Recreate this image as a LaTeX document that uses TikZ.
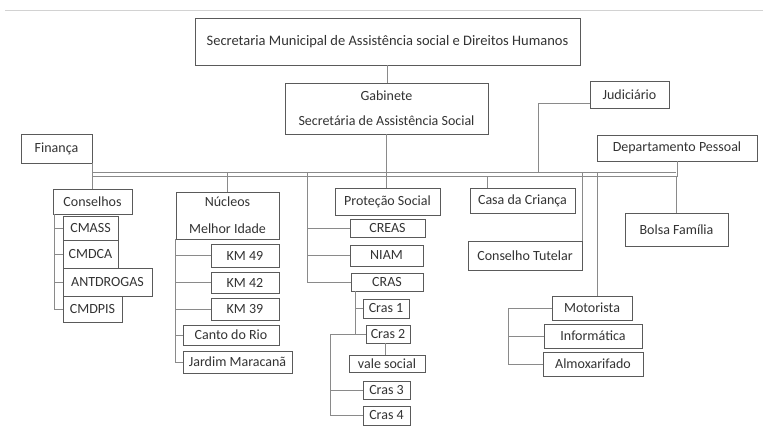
\documentclass[tikz,border=0pt]{standalone}
\usepackage{fontspec}
\setmainfont{Carlito}
\usetikzlibrary{shadows}
\definecolor{txt}{HTML}{333333}
\definecolor{edge}{HTML}{5A5A5A}
\definecolor{lnkc}{HTML}{8A8A8A}
\tikzset{
  box/.style={draw=edge, line width=0.6pt, fill=white, text=txt, inner sep=0pt,
    font=\fontsize{14}{16}\selectfont,
    drop shadow={shadow xshift=0.9pt, shadow yshift=-0.9pt, fill=black!70, opacity=1}},
  lnk/.style={draw=lnkc, line width=0.7pt},
}
\newcommand\bx[6]{\node[box, minimum width=#4pt, minimum height=#5pt] (#1) at (#2,#3) {#6};}
\begin{document}
\begin{tikzpicture}[x=1pt,y=-1pt]
\fill[white] (0,0) rectangle (763,426);
\useasboundingbox (0,0) rectangle (763,426);
\draw[gray!35, line width=0.8pt] (5,10) -- (763,10);
% boxes
\node[box, minimum width=385pt, minimum height=47pt, font=\fontsize{14.5}{16}\selectfont] (top) at (387.5,41.5) {Secretaria Municipal de Assistência social e Direitos Humanos};
\node[box, minimum width=203pt, minimum height=51pt, align=center, font=\fontsize{14}{25}\selectfont] (gab) at (386.5,108.5) {Gabinete\\Secretária de Assistência Social};
\bx{jud}{629.5}{94.5}{79}{27}{Judiciário}
\bx{fin}{56.5}{148.5}{71}{29}{Finança}
\bx{dep}{677}{148}{160}{26}{Departamento Pessoal}
\bx{cons}{92.5}{201.5}{79}{25}{Conselhos}
\bx{cmass}{90.5}{228}{55}{24}{CMASS}
\bx{cmdca}{90.5}{254}{55}{28}{CMDCA}
\bx{antdrogas}{107.5}{282}{89}{28}{ANTDROGAS}
\bx{cmdpis}{92.5}{309}{59}{26}{CMDPIS}
\node[box, minimum width=103pt, minimum height=47pt, align=center, font=\fontsize{14}{27}\selectfont] (nuc) at (227.5,215.5) {Núcleos\\Melhor Idade};
\bx{km49}{245}{255.5}{68}{23}{KM 49}
\bx{km42}{245}{282.5}{68}{21}{KM 42}
\bx{km39}{245}{309}{68}{22}{KM 39}
\bx{canto}{231}{335}{96}{20}{Canto do Rio}
\bx{jardim}{237.5}{362}{109}{22}{Jardim Maracanã}
\bx{prot}{387.5}{201.5}{105}{27}{Proteção Social}
\bx{creas}{387.5}{228}{75}{18}{CREAS}
\bx{niam}{386.5}{255.5}{73}{21}{NIAM}
\bx{cras}{387}{282}{72}{18}{CRAS}
\bx{cras1}{386}{308.5}{46}{19}{Cras 1}
\bx{cras2}{388}{334}{44}{18}{Cras 2}
\bx{vale}{387}{363.5}{76}{17}{vale social}
\bx{cras3}{386.5}{390}{47}{18}{Cras 3}
\bx{cras4}{386.5}{415.5}{47}{19}{Cras 4}
\bx{casa}{522.5}{200.5}{105}{25}{Casa da Criança}
\bx{tutelar}{525}{255.5}{114}{29}{Conselho Tutelar}
\bx{motorista}{592}{308}{80}{24}{Motorista}
\bx{info}{593}{336}{98}{24}{Informática}
\bx{almox}{593}{364}{100}{24}{Almoxarifado}
\bx{bolsa}{676.5}{229.5}{103}{33}{Bolsa Família}
% bus
\coordinate (bL) at (93,172.5);
\coordinate (bR) at (676,172.5);
\coordinate (b2L) at (93,176.5);
\coordinate (b2R) at (677,176.5);
\draw[lnk] (bL) -- (bR);
\draw[lnk] (b2L) -- (b2R);
% connectors
\draw[lnk] (top.south) -- (top.south |- gab.north);
\draw[lnk] (gab.south) -- (gab.south |- prot.north);
\draw[lnk] (fin.south east) -- (fin.south east |- cons.north);
\coordinate (jt) at (538,172.5);
\draw[lnk] ([yshift=-9pt]jud.west) -| (jt);
\draw[lnk] (dep.south) -- (dep.south |- b2R);
\draw[lnk] (nuc.north) -- (nuc.north |- bL);
\coordinate (pt) at (307,172.5);
\draw[lnk] (pt) |- (cras.west);
\draw[lnk] (pt |- creas.west) -- (creas.west);
\draw[lnk] (pt |- niam.west) -- (niam.west);
\coordinate (ct) at (487,176.5);
\draw[lnk] (ct) -- (ct |- casa.north);
\draw[lnk] (tutelar.north east) -- (tutelar.north east |- bL);
\coordinate (mt) at (597,172.5);
\draw[lnk] (mt) -- (mt |- motorista.north);
\draw[lnk] (motorista.west) -- ++(-43,0) coordinate (mb) |- (almox.west);
\draw[lnk] (mb |- info.west) -- (info.west);
\draw[lnk] (bolsa.north) -- (bolsa.north |- b2R);
% conselhos bracket
\coordinate (cb) at (54,214);
\draw[lnk] (cb) |- (cmdpis.west);
\foreach \n in {cmass,cmdca,antdrogas} \draw[lnk] (cb |- \n.west) -- (\n.west);
% nucleos bracket
\draw[lnk] (nuc.south west) |- (jardim.west);
\foreach \n in {km49,km42,km39,canto} \draw[lnk] (nuc.south west |- \n.west) -- (\n.west);
% cras
\draw[lnk] ([xshift=5pt]cras.south west) |- (cras2.west);
\draw[lnk] ([xshift=5pt]cras.south west |- cras1.west) -- (cras1.west);
\draw[lnk] (cras2.west) -- ++(-35,0) coordinate (c2b) |- (cras4.west);
\draw[lnk] (c2b |- cras3.west) -- (cras3.west);
\draw[lnk] ([xshift=-3pt]cras2.south) -- ([xshift=-3pt]cras2.south |- vale.north);
\end{tikzpicture}
\end{document}
